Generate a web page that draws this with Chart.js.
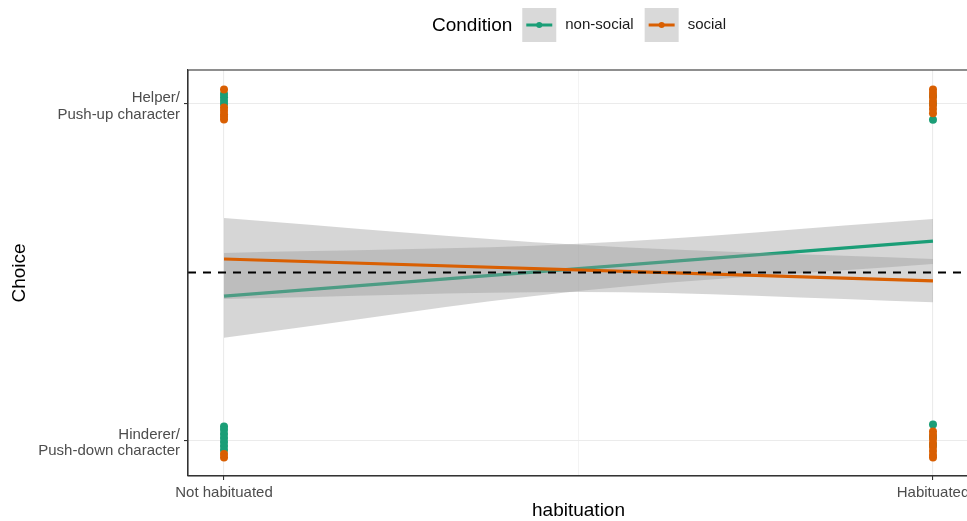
<!DOCTYPE html>
<html>
<head>
<meta charset="utf-8">
<script src="https://cdn.jsdelivr.net/npm/chart.js@4"></script>
<style>
  html, body { margin: 0; padding: 0; background: #fff; overflow: hidden; }
  #wrap { width: 975px; height: 521px; }
</style>
</head>
<body>
<div id="wrap"><canvas id="grafico" width="975" height="521"></canvas></div>
<script>
// dados
const conditions = ['non-social', 'social'];
const xTickLabels = ['Not habituated', 'Habituated'];
const yTickLabels = [['Hinderer/', 'Push-down character'], ['Helper/', 'Push-up character']];
const chanceLevel = 0.5;

// linhas ajustadas (x = 0 não habituado, x = 1 habituado)
const lineX = [0, 1];
const fitNonSocial = [0.430, 0.593];
const fitSocial = [0.540, 0.475];

// faixas de confiança
const bandX = [0, 0.5, 1];
const bandNonSocialLow = [0.306, 0.445, 0.525];
const bandNonSocialHigh = [0.558, 0.585, 0.659];
const bandSocialLow = [0.421, 0.442, 0.412];
const bandSocialHigh = [0.662, 0.582, 0.540];

// respostas individuais (com jitter vertical)
const nonSocialNotHabHelper = [1.030, 1.020, 1.010, 1.000];
const nonSocialNotHabHinderer = [0.043, 0.033, 0.021, 0.009, -0.003, -0.015, -0.027];
const nonSocialHabHelper = [1.024, 1.000, 0.953];
const nonSocialHabHinderer = [0.049, 0.012, -0.012];
const socialNotHabHelper = [1.043, 0.990, 0.980, 0.970, 0.962, 0.954];
const socialNotHabHinderer = [-0.039, -0.049];
const socialHabHelper = [1.043, 1.033, 1.021, 1.009, 0.997, 0.985, 0.973];
const socialHabHinderer = [0.028, 0.018, 0.006, -0.006, -0.018, -0.030, -0.042, -0.049];

const colors = ['#1b9e77', '#d95f02'];
const FONT = '"Liberation Sans", Arial, sans-serif';
const X_MIN = -0.0508, X_MAX = 1.0508;
const Y_MIN = -0.104, Y_MAX = 1.101;

const toXY = (xs, ys) => xs.map((x, i) => ({ x, y: ys[i] }));
const atX = (x, ys) => ys.map(y => ({ x, y }));

const pontosNonSocial = [
  ...atX(0, nonSocialNotHabHelper), ...atX(0, nonSocialNotHabHinderer),
  ...atX(1, nonSocialHabHelper), ...atX(1, nonSocialHabHinderer)
];
const pontosSocial = [
  ...atX(0, socialNotHabHelper), ...atX(0, socialNotHabHinderer),
  ...atX(1, socialHabHelper), ...atX(1, socialHabHinderer)
];

const ribbonFill = 'rgba(153,153,153,0.4)';
const semPonto = { pointRadius: 0, pointHoverRadius: 0 };

// first dataset is drawn on top
const datasets = [
  { data: [{ x: X_MIN, y: chanceLevel }, { x: X_MAX, y: chanceLevel }],
    borderColor: '#000', borderWidth: 1.9, borderDash: [8, 7], fill: false, ...semPonto },
  { data: pontosSocial, showLine: false, pointRadius: 4, pointBackgroundColor: colors[1], pointBorderWidth: 0 },
  { data: pontosNonSocial, showLine: false, pointRadius: 4, pointBackgroundColor: colors[0], pointBorderWidth: 0 },
  { data: toXY(lineX, fitSocial), borderColor: colors[1], borderWidth: 3.2, fill: false, ...semPonto },
  { data: toXY(bandX, bandSocialHigh), borderWidth: 0, borderColor: 'rgba(0,0,0,0)',
    backgroundColor: ribbonFill, fill: '+1', cubicInterpolationMode: 'monotone', ...semPonto },
  { data: toXY(bandX, bandSocialLow), borderWidth: 0, borderColor: 'rgba(0,0,0,0)',
    fill: false, cubicInterpolationMode: 'monotone', ...semPonto },
  { data: toXY(lineX, fitNonSocial), borderColor: colors[0], borderWidth: 3.2, fill: false, ...semPonto },
  { data: toXY(bandX, bandNonSocialHigh), borderWidth: 0, borderColor: 'rgba(0,0,0,0)',
    backgroundColor: ribbonFill, fill: '+1', cubicInterpolationMode: 'monotone', ...semPonto },
  { data: toXY(bandX, bandNonSocialLow), borderWidth: 0, borderColor: 'rgba(0,0,0,0)',
    fill: false, cubicInterpolationMode: 'monotone', ...semPonto }
];

// moldura do painel
const moldura = {
  id: 'moldura',
  afterDatasetsDraw(chart) {
    const { ctx, chartArea: a } = chart;
    ctx.save();
    ctx.strokeStyle = '#333';
    ctx.lineWidth = 1.1;
    ctx.strokeRect(a.left, a.top, a.right - a.left, a.bottom - a.top);
    ctx.restore();
  }
};

// legenda no topo
const legenda = {
  id: 'legenda',
  afterDraw(chart) {
    const ctx = chart.ctx;
    const cy = 25;
    ctx.save();
    ctx.textBaseline = 'middle';
    ctx.fillStyle = '#000';
    ctx.font = '19px ' + FONT;
    let x = 432;
    ctx.fillText('Condition', x, cy + 1);
    x += ctx.measureText('Condition').width + 10;
    ctx.font = '15px ' + FONT;
    conditions.forEach((nome, i) => {
      ctx.fillStyle = '#d9d9d9';
      ctx.fillRect(x, cy - 17, 34, 34);
      ctx.strokeStyle = colors[i];
      ctx.lineWidth = 3;
      ctx.beginPath();
      ctx.moveTo(x + 4, cy);
      ctx.lineTo(x + 30, cy);
      ctx.stroke();
      ctx.fillStyle = colors[i];
      ctx.beginPath();
      ctx.arc(x + 17, cy, 3, 0, Math.PI * 2);
      ctx.fill();
      x += 34 + 9;
      ctx.fillStyle = '#1a1a1a';
      ctx.fillText(nome, x, cy);
      x += ctx.measureText(nome).width + 11;
    });
    ctx.restore();
  }
};

new Chart(document.getElementById('grafico'), {
  type: 'line',
  data: { datasets },
  plugins: [moldura, legenda],
  options: {
    responsive: false,
    animation: false,
    devicePixelRatio: 1,
    layout: { padding: { top: 70, right: 6, left: 0, bottom: 0 } },
    plugins: { legend: { display: false }, tooltip: { enabled: false } },
    scales: {
      x: {
        type: 'linear',
        min: X_MIN,
        max: X_MAX,
        afterBuildTicks: s => { s.ticks = [0, 0.5, 1].map(v => ({ value: v })); },
        afterFit: s => { s.height = 45; },
        ticks: {
          autoSkip: false, maxRotation: 0, padding: 4, color: '#4d4d4d',
          font: { family: FONT, size: 15 },
          callback: v => (v === 0 ? xTickLabels[0] : v === 1 ? xTickLabels[1] : '')
        },
        grid: {
          color: '#ebebeb',
          lineWidth: c => (c.tick && c.tick.value === 0.5 ? 0.6 : 1.1),
          tickLength: 4,
          tickWidth: 1.1,
          tickColor: c => (c.tick && c.tick.value === 0.5 ? 'rgba(0,0,0,0)' : '#333')
        },
        border: { display: true, color: '#333', width: 1.1 },
        title: {
          display: true, text: 'habituation', color: '#000',
          font: { family: FONT, size: 19 }, padding: { top: 0, bottom: -1 }
        }
      },
      y: {
        type: 'linear',
        min: Y_MIN,
        max: Y_MAX,
        afterBuildTicks: s => { s.ticks = [0, 1].map(v => ({ value: v })); },
        afterFit: s => { s.width = 188; },
        ticks: {
          padding: 4, color: '#4d4d4d', labelOffset: 2,
          font: { family: FONT, size: 15, lineHeight: 1.12 },
          callback: v => yTickLabels[v]
        },
        grid: { color: '#ebebeb', lineWidth: 1.1, tickLength: 4, tickWidth: 1.1, tickColor: '#333' },
        border: { display: true, color: '#333', width: 1.1 },
        title: {
          display: true, text: 'Choice', color: '#000',
          font: { family: FONT, size: 19 }, padding: { top: 8, bottom: 0 }
        }
      }
    }
  }
});
</script>
</body>
</html>
